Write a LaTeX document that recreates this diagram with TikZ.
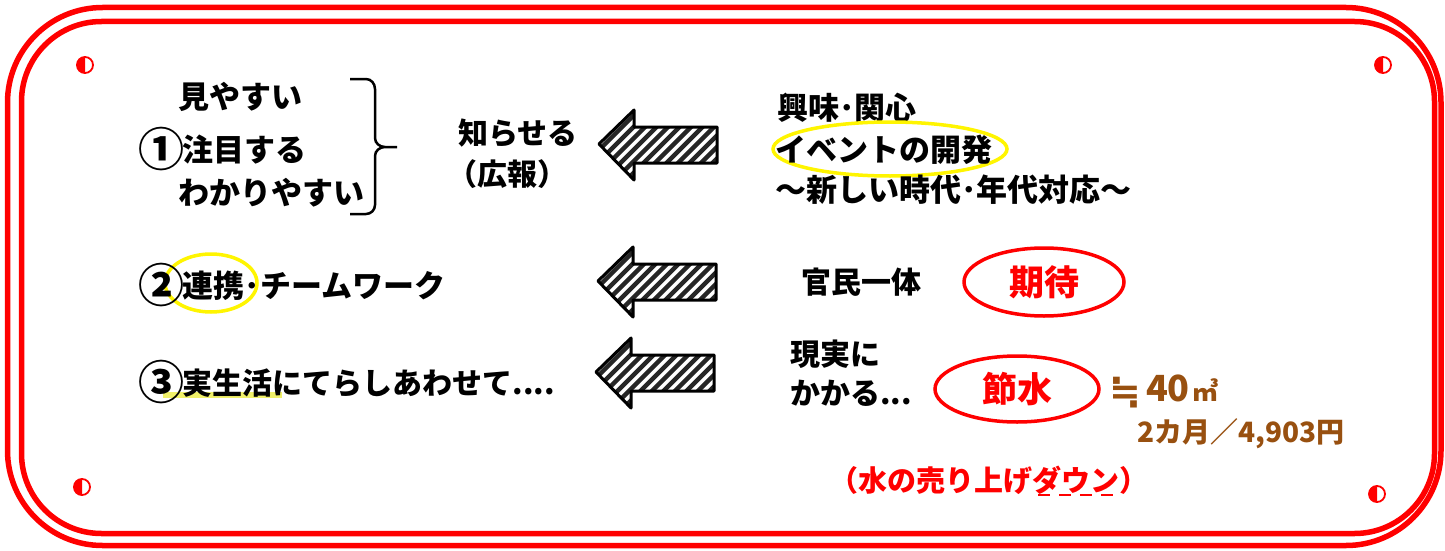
\documentclass[tikz,border=0pt]{standalone}
\usepackage{fontspec}
\setmainfont{Noto Sans CJK JP}
\newfontfamily\djv{DejaVu Sans}
\usetikzlibrary{shapes.geometric}
\definecolor{brn}{HTML}{985010}
\definecolor{ylw}{RGB}{255,245,0}
\definecolor{hl}{RGB}{238,238,80}
\newcommand{\bignum}[1]{{\fontsize{46}{46}\selectfont\raisebox{-5.5pt}{#1}}\kern-2pt}
\tikzset{
  hatcharrow/.pic={
     \begin{scope}
       \clip (0,0) -- (35,-34) -- (35,-17) -- (118,-17) -- (118,19) -- (35,19) -- (35,36) -- cycle;
       \foreach \i in {-80,-68.5,...,130} \draw[black!85, line width=4.5pt] (\i,40) -- (\i+80,-40);
     \end{scope}
     \draw[line width=3pt, line join=round]
     (0,0) -- (35,-34) -- (35,-17) -- (118,-17) -- (118,19) -- (35,19) -- (35,36) -- cycle;},
  halfdot/.pic={\fill[red] (0,0) -- (90:8.5) arc[start angle=90,end angle=270,radius=8.5] -- cycle;
     \draw[red,line width=1.8pt] (0,0) circle[radius=8];}
}
\begin{document}
\begin{tikzpicture}[x=1pt,y=-1pt,
  every node/.style={inner sep=0pt},
  big/.style={anchor=base west, font=\bfseries\fontsize{31}{31}\selectfont},
  mid/.style={anchor=base west, font=\bfseries\fontsize{30}{30}\selectfont},
  brtxt/.style={anchor=base west, text=brn, font=\bfseries\fontsize{26}{26}\selectfont},
  redoval/.style={ellipse, draw=red, line width=3.5pt, text=red, font=\bfseries\fontsize{35}{35}\selectfont},
  ylwoval/.style={ellipse, draw=ylw, line width=3.5pt},
  frame/.style={draw=red, line width=5.5pt}
]
\useasboundingbox (0,0) rectangle (1445,551);
\fill[white] (0,0) rectangle (1445,551);
% frames
\draw[frame, rounded corners=95pt] (7.5,7.5) rectangle (1441,545.5);
\draw[frame, rounded corners=80pt] (21.5,21.5) rectangle (1434.5,533.5);
% corner marks
\pic at (85,65) {halfdot};
\pic at (1383,65) {halfdot};
\pic at (82,487) {halfdot};
\pic at (1377,494) {halfdot};
% row 1 left
\node[big] (l1) at (178,108) {見やすい};
\node[big] (l2) at (138.5,161) {\bignum{①}注目する};
\node[big] (l3) at (178,204) {わかりやすい};
\draw[line width=2.5pt] (350,79) -- (366,79) to[out=0,in=90] (375,89) -- (375,138)
   to[out=-90,in=180] (385,147) -- (397,147)
   (385,147) to[out=180,in=90] (375,156) -- (375,205) to[out=-90,in=0] (366,214) -- (350,214);
\node[mid] (shirase) at (458,144) {知らせる};
\node[mid] (koho) at (447,185) {（広報）};
% arrows
\pic at (599,144) {hatcharrow};
\pic at (598,281) {hatcharrow};
\pic at (596,372) {hatcharrow};
% row 1 right
\node[big] (r1) at (777,119) {興味･関心};
\node[ylwoval, minimum width=234, minimum height=54] (evo) at (890,149) {};
\node[big] (r2) at (775,161) {イベントの開発};
\node[big] (r3) at (775,201) {～新しい時代･年代対応～};
% row 2
\node[ylwoval, minimum width=92, minimum height=58] (renov) at (211,283) {};
\node[big] (row2) at (138.5,297) {\bignum{②}連携･チームワーク};
\node[mid] (kanmin) at (801,293) {官民一体};
\node[redoval, minimum width=160, minimum height=68] (kitai) at (1044,282) {期待};
% row 3
\draw[hl, line width=6pt, opacity=0.85] (163,395) -- (282,395);
\node[mid] (row3) at (138.5,394) {\bignum{③}実生活にてらしあわせて....};
\node[mid] (genj) at (790,365) {現実に};
\node[mid] (kaka) at (790,404) {かかる...};
\node[redoval, minimum width=164, minimum height=66] (sessui) at (1017,389) {節水};
\node[brtxt] (m3) at (1109,401) {{\djv\fontsize{38}{38}\selectfont\raisebox{-3pt}{≒}}\kern5pt{\fontsize{36}{36}\selectfont 40}\kern3pt㎥};
\node[brtxt, font=\bfseries\fontsize{28}{28}\selectfont] (yen) at (1137,442) {2カ月／4,903円};
\node[anchor=base west, text=red, font=\bfseries\fontsize{29}{29}\selectfont] (down) at (829,491) {（水の売り上げダウン）};
\draw[red, line width=1.3pt, dash pattern=on 12pt off 9pt] (1038,495) -- (1120,495);
\end{tikzpicture}
\end{document}
